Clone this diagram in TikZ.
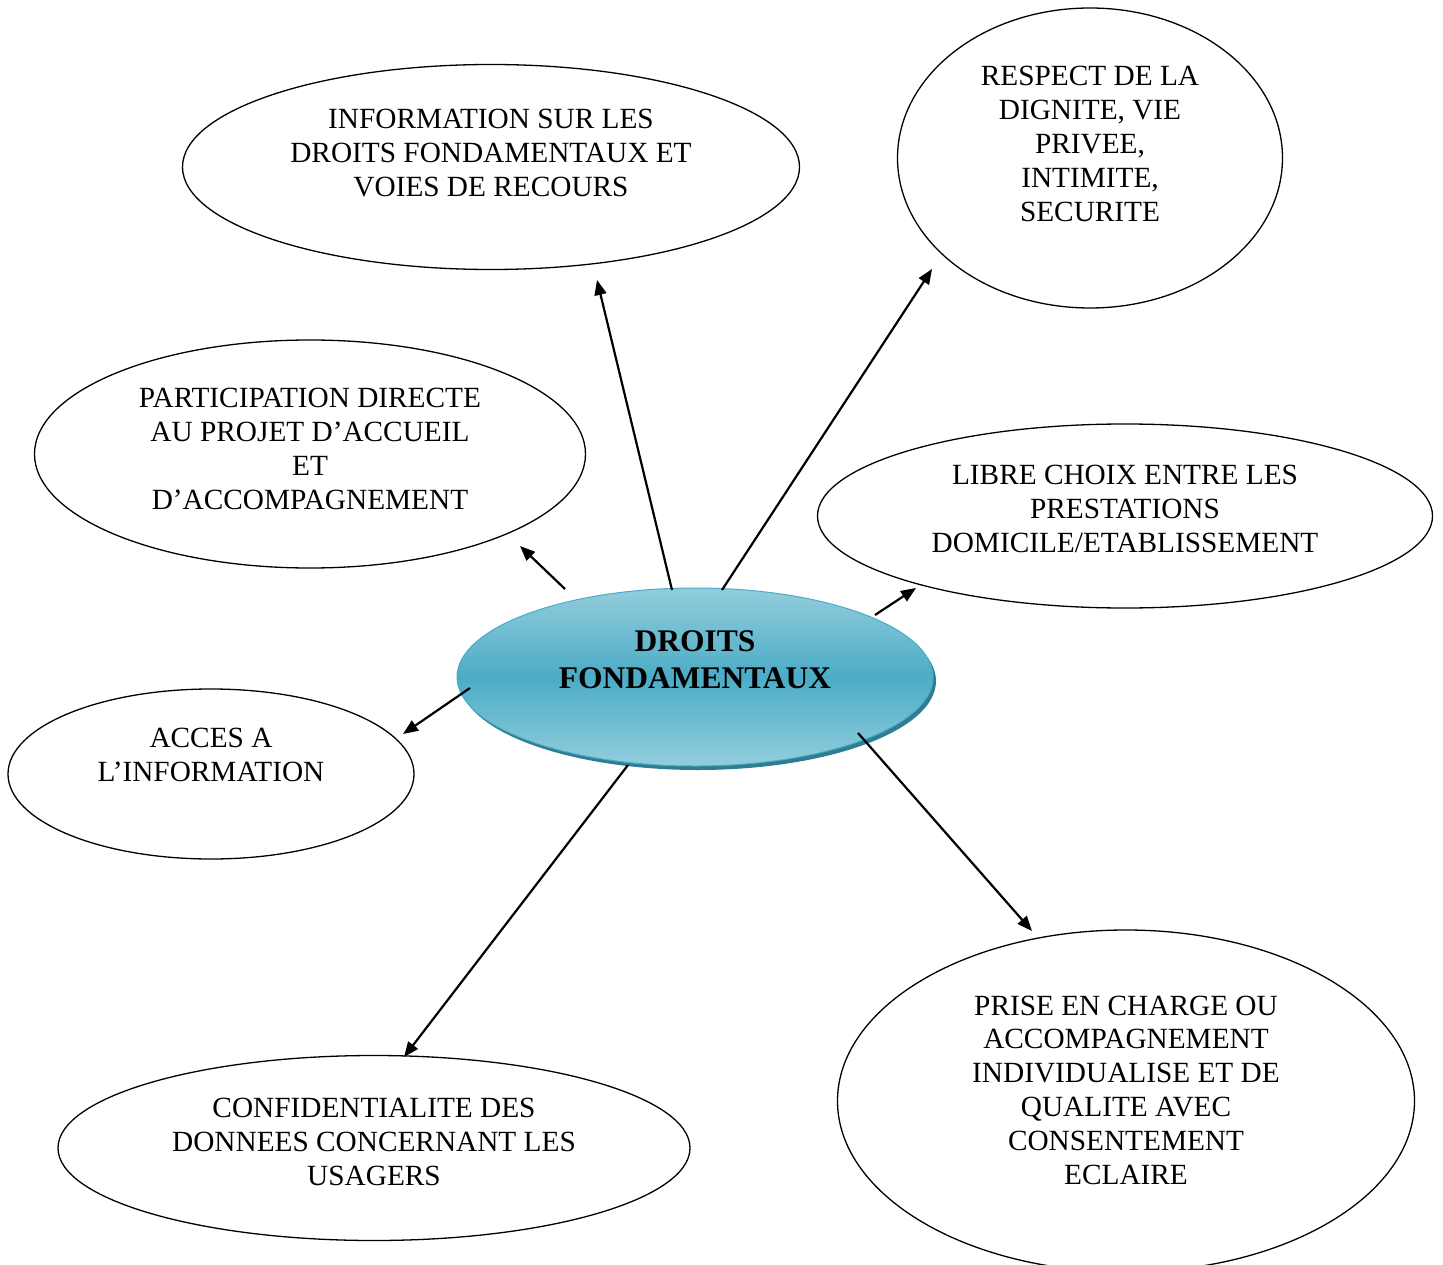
\documentclass[tikz,border=0pt]{standalone}
\usepackage{fontspec}
\setmainfont{Liberation Serif}
\usetikzlibrary{shapes.geometric,arrows.meta}
\definecolor{tealmid}{HTML}{4BACC6}
\definecolor{teallight}{HTML}{93CDDD}
\definecolor{tealdark}{HTML}{2F7D91}
\tikzset{
  bubble/.style={ellipse, draw=black, line width=1.3pt, inner sep=0pt},
  btext/.style={align=center, font=\fontsize{29.3}{33.8}\selectfont, inner sep=0pt},
  link/.style={line width=2.2pt, -{Triangle[length=15pt,width=12pt]}}
}
\begin{document}
\begin{tikzpicture}[x=1pt,y=-1pt]
\useasboundingbox (0,0) rectangle (1443,1265);
% outer ellipses
\node[bubble, minimum width=617pt, minimum height=205pt] (e1) at (491,167) {};
\node[bubble, minimum width=385pt, minimum height=300pt] (e2) at (1090,158) {};
\node[bubble, minimum width=551pt, minimum height=228pt] (e3) at (310,454) {};
\node[bubble, minimum width=615pt, minimum height=184pt] (e4) at (1125,516) {};
\node[bubble, minimum width=406pt, minimum height=170pt] (e5) at (211,774) {};
\node[bubble, minimum width=632pt, minimum height=185pt] (e6) at (374,1148) {};
\node[bubble, minimum width=577pt, minimum height=342pt] (e7) at (1126,1101) {};
% texts
\node[btext] (t1) at (491,153) {INFORMATION SUR LES\\DROITS FONDAMENTAUX ET\\VOIES DE RECOURS};
\node[btext] (t2) at (1090,144) {RESPECT DE LA\\DIGNITE, VIE\\PRIVEE,\\INTIMITE,\\SECURITE};
\node[btext] (t3) at (310,449) {PARTICIPATION DIRECTE\\AU PROJET D’ACCUEIL\\ET\\D’ACCOMPAGNEMENT};
\node[btext] (t4) at (1125,509) {LIBRE CHOIX ENTRE LES\\PRESTATIONS\\DOMICILE/ETABLISSEMENT};
\node[btext] (t5) at (211,755) {ACCES A\\L’INFORMATION};
\node[btext] (t6) at (374,1142) {CONFIDENTIALITE DES\\DONNEES CONCERNANT LES\\USAGERS};
\node[btext] (t7) at (1126,1090) {PRISE EN CHARGE OU\\ACCOMPAGNEMENT\\INDIVIDUALISE ET DE\\QUALITE AVEC\\CONSENTEMENT\\ECLAIRE};
% central ellipse with shadow
\node[ellipse, inner sep=0pt, minimum width=476pt, minimum height=178pt, fill=tealdark] (cs) at (698,681) {};
\node[ellipse, inner sep=0pt, minimum width=476pt, minimum height=178pt, draw=tealmid, line width=1pt,
  shading=axis, top color=teallight, bottom color=teallight, middle color=tealmid] (c) at (695,677) {};
\node[align=center, inner sep=0pt, font=\bfseries\fontsize{31.5}{37}\selectfont] (ct) at (695,660) {DROITS\\FONDAMENTAUX};
% connector ends
\coordinate (s1) at (672,590); \coordinate (a1) at (597,280);
\coordinate (s2) at (722,590); \coordinate (a2) at (932,269);
\coordinate (s3) at (565,589); \coordinate (a3) at (520,546);
\coordinate (s4) at (875,615); \coordinate (a4) at (916,588);
\coordinate (s5) at (470,688); \coordinate (a5) at (403,734);
\coordinate (s6) at (628,765); \coordinate (a6) at (404,1057);
\coordinate (s7) at (858,733); \coordinate (a7) at (1032,931);
\draw[link] (s1) -- (a1);
\draw[link] (s2) -- (a2);
\draw[link] (s3) -- (a3);
\draw[link] (s4) -- (a4);
\draw[link] (s5) -- (a5);
\draw[link] (s6) -- (a6);
\draw[link] (s7) -- (a7);
\end{tikzpicture}
\end{document}
